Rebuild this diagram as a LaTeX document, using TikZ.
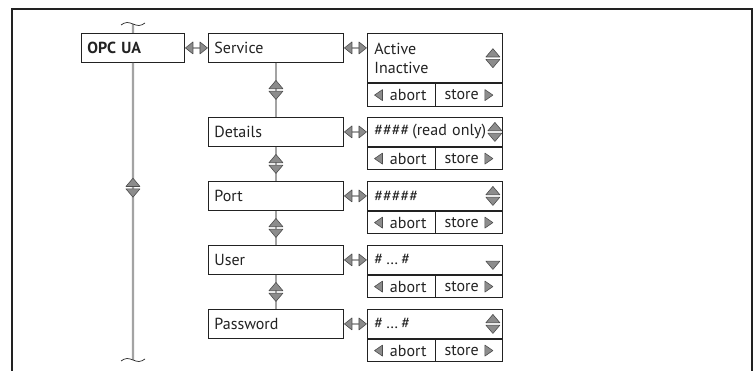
\documentclass[tikz,border=0pt]{standalone}
\usepackage{fontspec}
\setmainfont{PT Sans}
\usetikzlibrary{calc,positioning}

\definecolor{ink}{HTML}{222222}
\definecolor{linkgray}{HTML}{A3A3A3}
\definecolor{trifill}{HTML}{8C8C8C}
\definecolor{triedge}{HTML}{4D4D4D}

\tikzset{
    tri/.style={fill=trifill,draw=triedge,line width=.6pt,line join=round},
    updown/.pic={
        \filldraw[tri] (-7,-1.2) -- (7,-1.2) -- (0,-9.5) -- cycle;
        \filldraw[tri] (-7,1.2) -- (7,1.2) -- (0,9.5) -- cycle;
    },
    downtri/.pic={
        \filldraw[tri] (-7,1.2) -- (7,1.2) -- (0,9.5) -- cycle;
    },
    leftright/.pic={
        \draw[linkgray,line width=2pt] (-4,0) -- (4,0);
        \filldraw[tri] (-3.5,-6) -- (-3.5,6) -- (-11,0) -- cycle;
        \filldraw[tri] (3.5,-6) -- (3.5,6) -- (11,0) -- cycle;
    },
    lefttri/.pic={
        \filldraw[tri] (4,-5.5) -- (4,5.5) -- (-4,0) -- cycle;
    },
    righttri/.pic={
        \filldraw[tri] (-4,-5.5) -- (-4,5.5) -- (4,0) -- cycle;
    }
}

\begin{document}
\begin{tikzpicture}[x=1pt,y=-1pt,font=\fontsize{16}{19.5}\selectfont,color=ink]
    \tikzstyle{menu box}=[draw,line width=.9pt,fill=white,anchor=north west,minimum height=29pt,text width=123pt,inner xsep=6pt,align=left]
    \tikzstyle{value box}=[menu box,text width=121pt,inner xsep=7pt]
    \tikzstyle{cell box}=[draw,line width=.9pt,minimum width=67.5pt,minimum height=22.5pt,inner sep=0pt]
    \tikzstyle{link}=[draw=linkgray,line width=2.4pt]
    \tikzstyle{frame}=[line width=1.3pt]

    \useasboundingbox (0,0) rectangle (756,371);
    \draw[frame] (12,371) -- (12,9) -- (752,9) -- (752,371);

    % main menu column
    \node[menu box,text width=91pt] (0) at (81,33) {\bfseries OPC UA};
    \coordinate (top) at (133,24);
    \coordinate (bot) at (133,360);
    \draw[link] (top) -- (0.north);
    \draw[link] (0.south) -- (bot);
    \draw[line width=.7pt] ($(top)+(-12,1)$) sin ($(top)+(-6,-1.5)$) cos ($(top)+(0,0)$) sin ($(top)+(6,1.5)$) cos ($(top)+(12,-1)$);
    \draw[line width=.7pt] ($(bot)+(-12,1)$) sin ($(bot)+(-6,-1.5)$) cos ($(bot)+(0,0)$) sin ($(bot)+(6,1.5)$) cos ($(bot)+(12,-1)$);
    \path (0.south) -- (bot) pic[pos=.42]{updown};

    % submenu
    \node[menu box] (1) at (208,33) {Service};
    \node[menu box] (2) at (208,117) {Details};
    \node[menu box] (3) at (208,181) {Port};
    \node[menu box] (4) at (208,245) {User};
    \node[menu box] (5) at (208,309) {Password};
    \path (0.east) -- (1.west) pic[midway]{leftright};

    \draw[link] (1.south) -- (2.north) pic[midway]{updown};
    \draw[link] (2.south) -- (3.north) pic[midway]{updown};
    \draw[link] (3.south) -- (4.north) pic[midway]{updown};
    \draw[link] (4.south) -- (5.north) pic[midway]{updown};

    % values
    \node[value box,minimum height=49.5pt] (v1) at (367,33) {Active\\Inactive};
    \node[value box] (v2) at (367,117) {\#\#\#\#\hspace{3pt}(read only)};
    \node[value box] (v3) at (367,181) {\#\#\#\#\#};
    \node[value box] (v4) at (367,245) {\#\hspace{3pt}…\hspace{3pt}\#};
    \node[value box] (v5) at (367,309) {\#\hspace{3pt}…\hspace{3pt}\#};

    \path (1.east) -- (1.east -| v1.west) pic[midway]{leftright};
    \path (2.east) -- (v2.west) pic[midway]{leftright};
    \path (3.east) -- (v3.west) pic[midway]{leftright};
    \path (4.east) -- (v4.west) pic[midway]{leftright};
    \path (5.east) -- (v5.west) pic[midway]{leftright};

    \pic at ([xshift=-10]v1.east) {updown};
    \pic at ([xshift=-8]v2.east) {updown};
    \pic at ([xshift=-10]v3.east) {updown};
    \pic at ([xshift=-10]v4.east) {downtri};
    \pic at ([xshift=-10]v5.east) {updown};

    % abort / store
    \node[cell box,anchor=north west] (a1) at (v1.south west) {\hspace*{14pt}abort};
    \node[cell box,anchor=north east] (s1) at (v1.south east) {store\hspace*{14pt}};
    \node[cell box,anchor=north west] (a2) at (v2.south west) {\hspace*{14pt}abort};
    \node[cell box,anchor=north east] (s2) at (v2.south east) {store\hspace*{14pt}};
    \node[cell box,anchor=north west] (a3) at (v3.south west) {\hspace*{14pt}abort};
    \node[cell box,anchor=north east] (s3) at (v3.south east) {store\hspace*{14pt}};
    \node[cell box,anchor=north west] (a4) at (v4.south west) {\hspace*{14pt}abort};
    \node[cell box,anchor=north east] (s4) at (v4.south east) {store\hspace*{14pt}};
    \node[cell box,anchor=north west] (a5) at (v5.south west) {\hspace*{14pt}abort};
    \node[cell box,anchor=north east] (s5) at (v5.south east) {store\hspace*{14pt}};

    \pic at ([xshift=11.5]a1.west) {lefttri};
    \pic at ([xshift=-14]s1.east) {righttri};
    \pic at ([xshift=11.5]a2.west) {lefttri};
    \pic at ([xshift=-14]s2.east) {righttri};
    \pic at ([xshift=11.5]a3.west) {lefttri};
    \pic at ([xshift=-14]s3.east) {righttri};
    \pic at ([xshift=11.5]a4.west) {lefttri};
    \pic at ([xshift=-14]s4.east) {righttri};
    \pic at ([xshift=11.5]a5.west) {lefttri};
    \pic at ([xshift=-14]s5.east) {righttri};
\end{tikzpicture}
\end{document}
